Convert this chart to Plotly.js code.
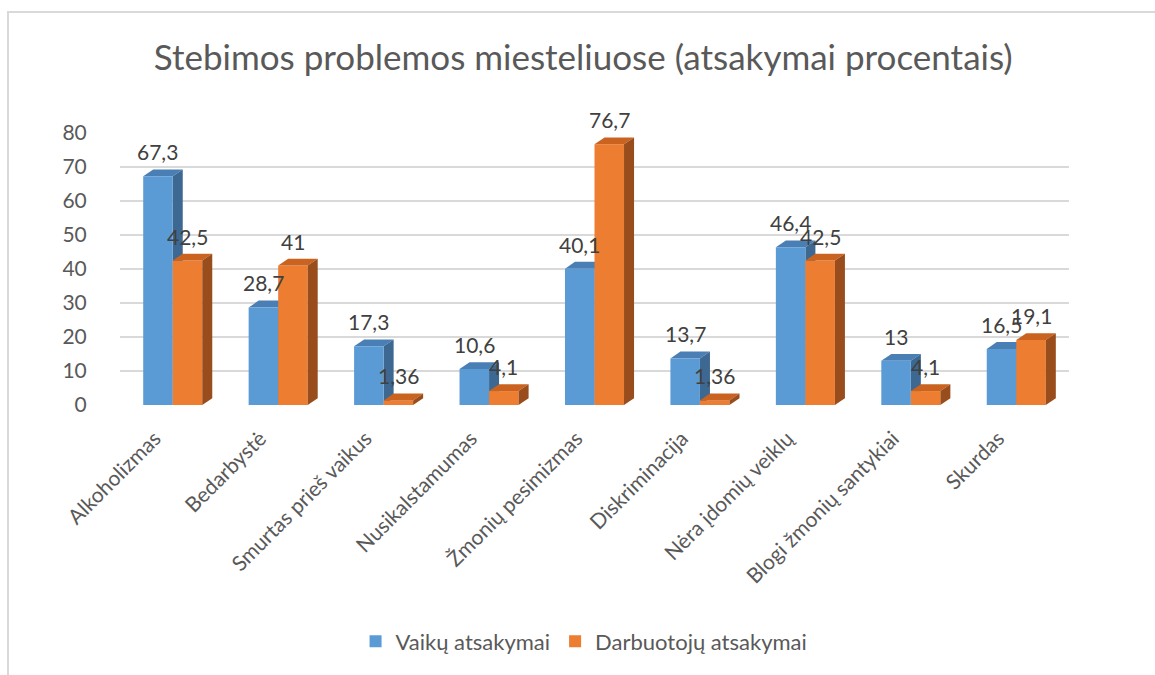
<!DOCTYPE html>
<html>
<head>
<meta charset="utf-8">
<script src="https://cdn.plot.ly/plotly-3.0.1.min.js"></script>
<style>
html,body{margin:0;padding:0;background:#fff;overflow:hidden;}
#frame{position:absolute;left:7px;top:11px;width:1200px;height:700px;border-left:2px solid #d9d9d9;border-top:2px solid #d9d9d9;pointer-events:none;z-index:5;}
#chart{position:absolute;left:0;top:0;width:1155px;height:675px;}
</style>
</head>
<body>
<div id="chart"></div>
<div id="frame"></div>
<script>
var categories = ["Alkoholizmas","Bedarbystė","Smurtas prieš vaikus","Nusikalstamumas","Žmonių pesimizmas","Diskriminacija","Nėra įdomių veiklų","Blogi žmonių santykiai","Skurdas"];
var vaikuValues = [67.3, 28.7, 17.3, 10.6, 40.1, 13.7, 46.4, 13, 16.5];
var darbuotojuValues = [42.5, 41, 1.36, 4.1, 76.7, 1.36, 42.5, 4.1, 19.1];
var seriesNames = ["Vaikų atsakymai","Darbuotojų atsakymai"];
var yTicks = [0,10,20,30,40,50,60,70,80];

var BLUE = "#5B9BD5", ORANGE = "#ED7D31";
var BLUE_TOP = "#4a7fb5", BLUE_SIDE = "#3d6891";
var ORANGE_TOP = "#c9631f", ORANGE_SIDE = "#9a4d1c";
var FONT = "Lato, 'Open Sans', sans-serif";

var BARGAP = 0.44;
var W = (1 - BARGAP) / 2;   // bar width in category units
var DX = 0.095, DY = 2.0;   // pseudo-depth
var LABEL_SHIFT = -0.17;    // rotated tick labels sit slightly left of group centre

function fmt(v){ return String(v).replace('.', ','); }

var traces = [
  {type:'bar', name:seriesNames[0], x:categories, y:vaikuValues, marker:{color:BLUE}, hoverinfo:'x+y'},
  {type:'bar', name:seriesNames[1], x:categories, y:darbuotojuValues, marker:{color:ORANGE}, hoverinfo:'x+y'}
];

var shapes = [];
function faces(vals, offset, topCol, sideCol, layer){
  vals.forEach(function(v, i){
    var x0 = i + offset, x1 = x0 + W;
    shapes.push({type:'path', xref:'x', yref:'y', layer:layer, line:{width:0}, fillcolor:topCol,
      path:'M'+x0+','+v+' L'+x1+','+v+' L'+(x1+DX)+','+(v+DY)+' L'+(x0+DX)+','+(v+DY)+' Z'});
    shapes.push({type:'path', xref:'x', yref:'y', layer:layer, line:{width:0}, fillcolor:sideCol,
      path:'M'+x1+',0 L'+x1+','+v+' L'+(x1+DX)+','+(v+DY)+' L'+(x1+DX)+','+DY+' Z'});
  });
}
faces(vaikuValues, -W, BLUE_TOP, BLUE_SIDE, 'between');
faces(darbuotojuValues, 0, ORANGE_TOP, ORANGE_SIDE, 'above');

var annotations = [];
function labels(vals, offset){
  vals.forEach(function(v, i){
    annotations.push({xref:'x', yref:'y', x:i + offset + W/2, y:v, text:fmt(v), showarrow:false,
      yanchor:'bottom', yshift:10, font:{family:FONT, size:21, color:'#404040'}});
  });
}
labels(vaikuValues, -W);
labels(darbuotojuValues, 0);

var layout = {
  width:1155, height:675,
  paper_bgcolor:'#ffffff', plot_bgcolor:'rgba(0,0,0,0)',
  margin:{l:120, r:86, t:133, b:268},
  separators:',.',
  title:{text:'Stebimos problemos miesteliuose (atsakymai procentais)', x:0.505, xanchor:'center', y:0.915, yanchor:'middle',
    font:{family:FONT, size:35, color:'#595959'}},
  barmode:'group', bargap:BARGAP, bargroupgap:0,
  xaxis:{type:'category', range:[-0.5, categories.length - 0.5], tickmode:'array',
    tickvals:categories.map(function(c, i){ return i + LABEL_SHIFT; }), ticktext:categories,
    tickangle:-45, tickfont:{family:FONT, size:21, color:'#595959'},
    showgrid:false, zeroline:false, showline:false, ticks:'outside', ticklen:12, tickcolor:'rgba(0,0,0,0)', automargin:false},
  yaxis:{range:[0,80], tickvals:yTicks, ticktext:yTicks.map(String), showgrid:true, gridcolor:'#d9d9d9', gridwidth:2,
    zeroline:false, showline:false, ticks:'outside', ticklen:28, tickcolor:'rgba(0,0,0,0)',
    tickfont:{family:FONT, size:21, color:'#595959'}, automargin:false},
  legend:{orientation:'h', x:0.489, xanchor:'center', y:-0.869, yanchor:'middle',
    font:{family:FONT, size:22, color:'#595959'}, itemwidth:30, traceorder:'normal'},
  shapes:shapes,
  annotations:annotations,
  showlegend:true
};

Plotly.newPlot('chart', traces, layout, {displayModeBar:false, staticPlot:true});
</script>
</body>
</html>
